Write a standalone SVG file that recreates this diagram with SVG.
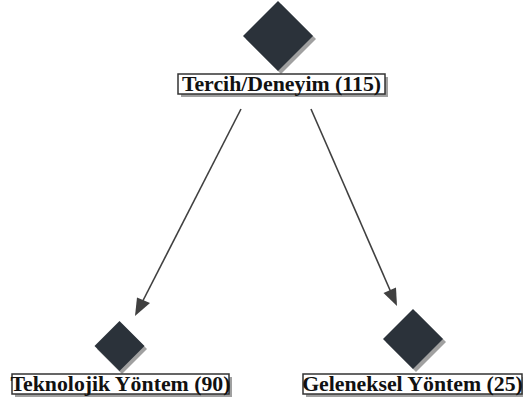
<svg xmlns="http://www.w3.org/2000/svg" width="523" height="412" viewBox="0 0 523 412">
<defs>
<style>
.dia{fill:#2b323a}
.sh{fill:#a0a0a0}
.box{fill:#ffffff;stroke:#333333;stroke-width:1.5}
.lbl{font-family:"Liberation Serif","Times New Roman",serif;font-weight:bold;font-size:21.8px;fill:#111111;text-anchor:middle}
.edge{stroke:#404040;stroke-width:1.6;fill:none}
</style>
</defs>
<rect width="523" height="412" fill="#ffffff"/>
<g id="connectors">
<path class="edge" d="M241,109 L141.5,303.5"/>
<path class="edge" d="M311,109 L391.5,293.5"/>
<polygon points="135,316 137,297.5 150,303" fill="#404040"/>
<polygon points="397,306 383.5,293 396,287.5" fill="#404040"/>
</g>
<g id="node-root">
<polygon class="sh" points="281,4 316,39 281,74 246,39"/>
<polygon class="dia" points="278,1 313,36 278,71 243,36"/>
<rect class="sh" x="181" y="77" width="207" height="20"/>
<rect class="box" x="178" y="74" width="207" height="20"/>
<text class="lbl" x="281.5" y="90.5">Tercih/Deneyim (115)</text>
</g>
<g id="node-tech">
<polygon class="sh" points="122,324 147,349 122,374 97,349"/>
<polygon class="dia" points="119.5,321 144.5,346 119.5,371 94.5,346"/>
<rect class="sh" x="15" y="377" width="217" height="20"/>
<rect class="box" x="12" y="374" width="217" height="20"/>
<text class="lbl" x="120.5" y="391">Teknolojik Yöntem (90)</text>
</g>
<g id="node-trad">
<polygon class="sh" points="416,312 446,342 416,372 386,342"/>
<polygon class="dia" points="413,309 443,339 413,369 383,339"/>
<rect class="sh" x="306" y="377" width="219" height="20"/>
<rect class="box" x="303" y="374" width="219" height="20"/>
<text class="lbl" x="412.5" y="391">Geleneksel Yöntem (25)</text>
</g>
</svg>
